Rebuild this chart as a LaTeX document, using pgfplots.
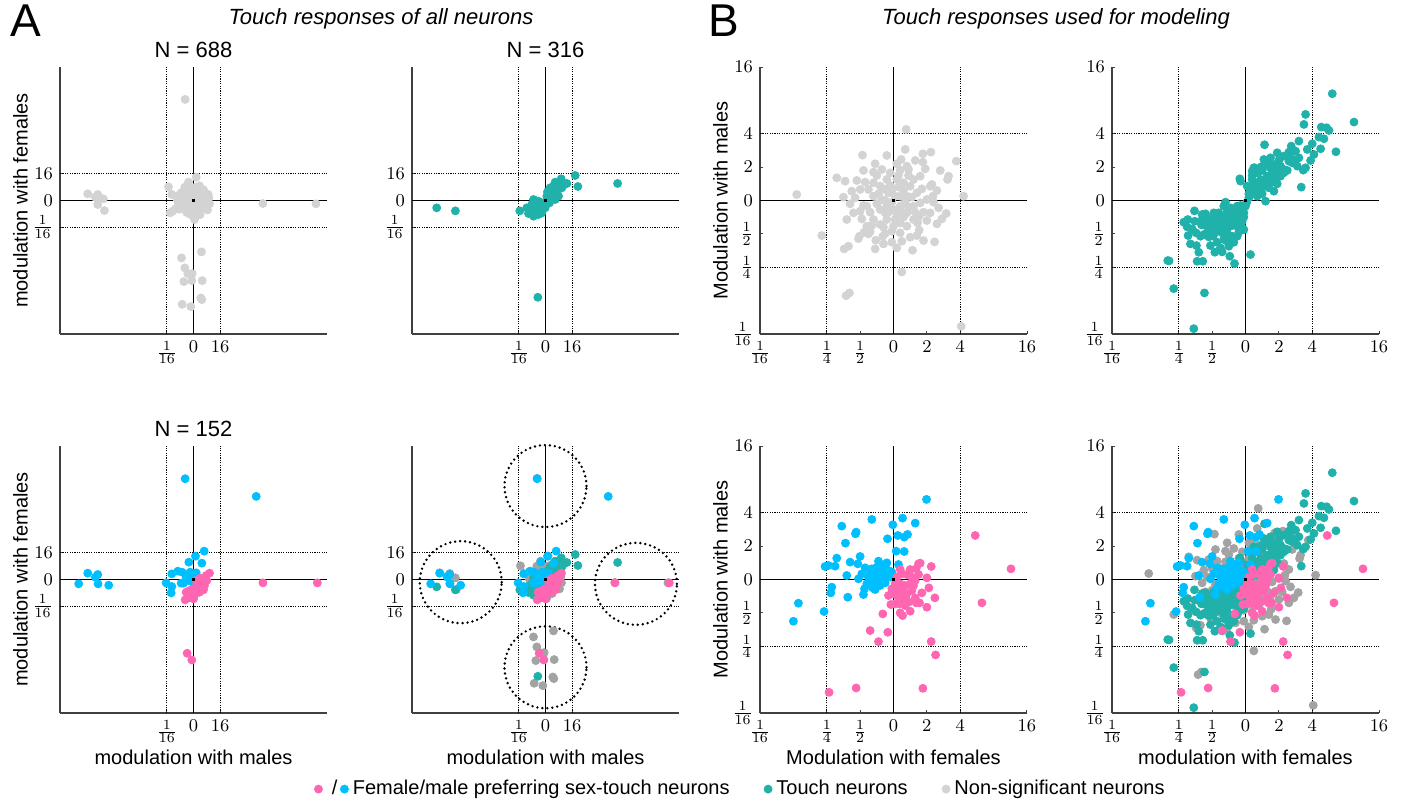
\documentclass[border=0pt]{standalone}
\usepackage{fontspec}
\setmainfont{Liberation Sans}
\usepackage{pgfplots}
\usepackage{pgfplotstable}
\pgfplotsset{compat=1.18}
\definecolor{pinkc}{HTML}{FF66B2}
\definecolor{bluec}{HTML}{00BFFF}
\definecolor{tealc}{HTML}{20B2AA}
\definecolor{lgray}{HTML}{D3D3D3}
\definecolor{dgray}{HTML}{A3A3A3}

% ---------------- data (log2 modulation) ----------------
\pgfplotstableread{
x y
-15.85 1.0
-14.35 0.9
-14.7 0.5
-14.2 0.3
-13.5 0.25
-14.35 -0.6
-13.35 -1.5
10.4 -0.45
18.35 -0.5
-1.25 15.15
1.2 -7.7
-1.8 -8.6
-1.3 -10.1
-0.85 -10.95
-0.2 -10.95
-1.45 -12.15
-0.25 -12.0
1.3 -12.0
1.1 -14.6
1.25 -14.85
-1.7 -15.55
-0.4 -15.9
-3.75 2.05
-3.25 0.9
-0.75 2.75
0.4 3.5
-3.5 -1.85
-3.1 -1.6
-2.7 -1.25
0.15 -2.85
-2.4 0.0
-2.2 0.8
-2.0 -0.6
-1.8 1.2
-1.6 -1.2
-1.5 0.4
-1.2 1.5
-1.0 -0.4
-1.0 -1.8
-0.8 0.8
-0.5 1.8
-0.5 -1.2
-0.3 0.2
-0.2 -2.2
0.0 1.2
0.2 -0.8
0.3 2.0
0.5 0.5
0.6 -1.6
0.8 1.5
1.0 -0.4
1.2 0.8
1.3 -1.2
1.5 1.6
1.6 0.2
1.8 -0.6
2.0 1.0
2.1 -1.4
2.3 0.4
-1.3 2.0
0.9 2.2
-0.6 -2.0
0.2 -1.9
-2.1 -1.3
-1.9 0.2
-0.9 0.0
0.7 -0.2
1.4 0.0
-0.2 -1.0
0.4 -2.3
1.0 -2.1
2.4 -0.5
-1.4 -0.5
-2.5 0.6
-2.3 -0.8
-1.7 -0.2
-1.4 1.0
-1.1 0.4
-0.7 -0.7
-0.4 0.8
-0.1 -0.5
0.1 0.4
0.4 1.3
0.5 -0.5
0.9 0.1
1.1 1.4
1.4 -0.7
1.7 0.9
2.0 -0.1
2.2 0.9
-0.9 1.3
0.3 -1.3
-1.3 -1.0
}\AgrayT

\pgfplotstableread{
x y
-16.3 -1.1
-13.5 -1.55
10.8 2.55
4.45 3.75
4.85 2.1
-1.15 -14.5
-3.85 -1.55
2.35 3.25
3.2 2.55
1.45 2.75
1.7 1.9
2.45 1.9
-2.8 -1.1
-2.55 -1.95
-1.8 -2.35
-1.8 0.15
-2.05 -0.6
-1.3 -0.6
-0.8 -1.1
-0.55 -1.85
-0.3 -0.35
0.2 0.15
0.45 0.9
0.7 1.4
0.95 0.65
1.2 1.15
1.7 1.15
1.95 0.65
1.45 0.15
0.6 -0.35
-1.3 -1.6
-2.05 -1.6
-1.05 -0.1
-2.3 -1.1
-1.55 -1.1
0.7 1.9
2.1 2.65
1.2 2.15
0.2 0.65
-0.8 -0.35
-0.05 -1.1
-1.05 -2.1
-1.55 -1.85
-0.5 -0.7
0.0 -0.3
0.4 0.3
0.9 0.9
1.3 1.6
1.9 2.2
-1.5 -0.4
-2.4 -1.7
-1.0 -1.5
0.3 1.3
2.6 2.2
}\AtealT

\pgfplotstableread{
x y
-1.25 15.1
9.4 12.45
1.6 4.25
0.3 3.5
-0.7 2.6
1.25 2.45
-3.25 0.85
-2.35 1.25
-1.7 1.1
-0.5 1.1
0.4 1.0
-1.1 0.35
-1.85 -0.55
-1.5 -0.55
-4.1 -0.5
-3.25 -1.05
-3.35 -2.0
-0.35 0.6
0.15 0.6
-0.8 -0.15
-0.1 -0.4
-17.2 -0.65
-15.85 0.95
-14.35 0.75
-14.7 0.35
-14.3 -0.65
-12.7 -0.85
}\AblueT

\pgfplotstableread{
x y
10.4 -0.5
18.55 -0.5
-0.95 -11.05
-0.25 -12.05
-1.25 -3.05
-0.85 -2.65
-0.35 -2.15
0.4 -1.9
0.9 -1.4
1.5 -1.55
1.65 -0.9
2.0 -0.15
2.4 0.95
1.9 0.6
1.15 -0.4
0.65 -0.9
-0.1 -1.4
-0.6 -1.65
-1.1 -1.9
0.15 -2.4
0.9 -1.9
1.4 -0.4
0.4 -0.15
1.0 0.2
-0.6 -2.7
0.0 -2.9
}\ApinkT

\pgfplotstableread{
x y
-2.9 0.18
-2.15 -1.05
-1.7 0.68
-1.45 0.58
-1.4 -0.57
-1.48 -1.45
-1.35 -1.37
-1.42 -2.85
-1.32 -2.77
-0.93 1.36
-0.2 1.35
0.23 1.23
0.35 1.53
0.38 2.13
0.45 0.93
0.88 1.15
0.88 1.4
1.12 1.45
1.88 1.18
1.65 0.73
1.62 0.63
2.1 0.13
2.03 -3.77
1.58 -0.39
1.35 -0.22
1.23 -1.24
0.57 -1.49
0.25 -1.22
0.1 -1.42
-0.05 -1.25
0.25 -2.14
-0.53 -1.19
-1.05 -1.14
-1.02 -1.07
-0.88 -0.95
-0.7 -0.94
-0.32 -1.07
-0.25 -0.99
0.77 -0.89
0.72 -0.67
1.1 -0.37
1.18 0.13
1.1 0.43
1.15 0.48
0.8 0.73
0.6 0.63
0.4 1.03
0.2 0.91
-0.35 0.93
-0.6 0.53
-0.75 0.33
-1.0 0.33
-1.15 0.08
-1.25 0.28
-1.2 -0.37
-1.0 -0.32
-0.8 -0.17
-0.6 -0.57
-0.8 -0.77
-0.4 -0.72
-0.25 -0.37
0.05 -0.57
0.4 -0.37
0.6 -0.17
0.8 -0.07
1.0 0.03
0.7 0.23
0.5 0.43
0.3 0.53
0.1 0.63
-0.1 0.83
-0.2 0.63
-0.4 0.43
-0.6 0.13
-0.35 0.03
-0.15 0.23
0.05 0.13
0.2 0.13
0.4 0.13
0.2 -0.17
0.0 -0.27
-0.2 -0.17
-0.4 -0.27
-0.2 -0.57
0.0 -0.77
0.2 -0.67
0.4 -0.77
0.6 -0.57
0.2 -0.97
-0.05 -0.92
-0.5 0.75
-0.85 0.55
0.95 0.95
1.3 0.3
1.45 -0.55
-1.3 -0.1
-0.95 -0.55
0.9 -1.2
0.7 -1.05
-0.55 -1.45
-0.75 -1.0
1.0 -0.6
-0.3 0.35
0.15 0.4
0.35 -0.05
-0.05 -0.05
-0.5 -0.1
0.55 0.1
-0.1 0.45
0.3 -0.5
-0.3 -0.8
0.45 0.75
-0.7 -0.35
0.85 0.35
-0.45 0.2
0.1 -0.4
0.65 -0.35
-0.15 -0.35
0.15 0.75
-0.6 0.85
0.3 0.3
-0.9 -0.15
0.9 -0.35
-0.3 -1.3
0.5 -1.1
1.3 -0.7
-1.5 0.1
-1.1 0.6
0.65 1.2
-0.55 1.1
1.4 0.9
-0.9 0.9
0.1 1.1
1.2 -0.05
-0.05 0.3
0.25 -0.35
-0.25 0.0
0.45 -0.2
0.75 -0.5
-0.65 -0.75
}\BgrayT

\pgfplotstableread{
x y
2.6 3.2
1.8 2.58
1.75 2.28
2.27 2.2
2.43 2.18
3.25 2.35
2.71 1.46
2.05 1.38
1.85 1.53
1.6 1.78
1.37 1.63
1.5 1.48
1.35 1.31
1.4 1.13
1.73 0.91
1.67 0.4
0.57 1.67
0.95 1.43
0.75 1.28
0.55 1.23
0.25 0.98
0.2 0.63
0.35 0.83
0.55 1.03
0.75 0.98
0.9 1.08
1.05 1.03
1.15 0.93
1.05 0.73
0.85 0.28
0.6 -0.02
0.35 0.13
0.15 0.33
0.05 0.43
0.25 0.53
0.45 0.63
0.65 0.73
0.8 0.83
0.95 0.88
0.55 0.43
0.4 0.33
0.25 0.23
0.75 0.53
-0.15 0.58
-0.17 0.65
0.1 0.08
0.03 -0.07
1.15 1.33
1.3 1.18
1.55 1.03
1.8 0.98
1.6 1.28
1.0 0.73
0.6 0.63
0.7 0.38
1.15 0.83
0.27 0.98
0.47 1.01
0.2 0.88
0.1 0.2
0.3 0.4
0.5 0.2
0.2 0.75
0.4 0.55
0.65 0.5
0.85 0.65
0.5 0.9
0.7 1.15
1.0 1.2
1.25 0.9
0.95 0.5
1.3 1.45
1.5 1.2
2.2 1.9
2.0 1.7
2.35 1.85
2.5 2.1
2.25 1.55
1.95 1.2
0.15 -1.62
0.0 -0.17
-0.1 -0.27
-0.2 -0.37
-0.3 -0.47
-0.4 -0.57
-0.5 -0.67
-0.6 -0.47
-0.65 -0.62
-0.75 -0.72
-0.85 -0.62
-0.95 -0.77
-1.05 -0.87
-1.15 -0.97
-1.0 -0.57
-0.8 -0.87
-0.7 -0.97
-0.45 -0.77
-0.25 -0.62
-0.1 -0.62
-0.05 -0.87
-0.25 -1.07
-0.4 -1.07
-0.55 -1.22
-0.5 -1.37
-0.75 -1.42
-0.7 -1.54
-0.92 -1.55
-0.47 -1.67
-0.33 -1.89
-1.23 -2.77
-1.55 -3.84
-2.15 -2.64
-2.33 -1.8
-2.29 -1.81
-1.45 -1.82
-1.28 -1.82
-1.47 -1.35
-1.85 -0.65
-1.73 -0.57
-1.75 -0.79
-1.72 -1.05
-1.53 -0.31
-1.52 -0.62
-1.3 -0.42
-1.32 -0.73
-1.2 -0.4
-1.48 -0.97
-1.35 -1.07
-1.25 -1.02
-1.1 -1.09
-0.97 -1.07
-1.15 -0.67
-0.95 -0.37
-0.8 -0.37
-0.65 -0.17
-0.45 -0.22
-0.35 -0.27
-1.3 -0.57
-0.15 -0.57
-0.05 -0.37
-0.25 -0.17
-0.17 -0.82
-0.55 -0.97
-0.65 -1.17
-0.1 -0.82
-0.15 -0.15
-0.35 -0.35
-0.55 -0.35
-0.75 -0.55
-0.9 -0.45
-1.1 -0.55
-1.2 -0.75
-0.9 -0.95
-0.6 -0.8
-0.3 -0.75
-0.2 -0.95
-0.35 -1.25
-0.85 -1.25
-1.05 -1.35
-1.6 -0.85
-1.65 -1.3
-1.4 -1.55
-0.6 -0.05
-0.45 -0.45
-0.05 -0.5
}\BtealT

\pgfplotstableread{
x y
0.99 2.4
-0.65 1.8
0.27 1.84
0.65 1.69
-0.02 1.64
-1.55 1.6
-1.14 1.37
-1.12 1.42
-1.44 1.09
-0.18 1.22
0.13 1.32
0.32 1.27
0.42 1.35
0.08 0.85
0.32 0.84
-1.7 0.64
-1.75 0.4
-2.05 0.39
-1.95 0.42
-1.3 0.52
-1.0 0.69
-1.07 0.47
-1.4 0.12
-0.95 0.17
-1.05 0.02
-0.87 -0.28
-0.62 -0.25
-1.37 -0.53
-1.85 -0.23
-1.88 -0.4
-2.08 -0.96
-2.85 -0.71
-3.0 -1.25
0.15 0.45
-0.65 0.32
-0.5 0.37
-0.35 0.42
-0.25 0.32
-0.15 0.27
-0.05 0.22
-0.6 0.17
-0.4 0.17
-0.2 0.12
-0.3 -0.03
-0.45 -0.13
-0.6 -0.03
-0.75 0.07
-0.1 0.07
-0.4 -0.18
-0.8 -0.13
-0.7 0.17
-0.35 0.3
-0.53 0.02
-0.45 0.55
-0.2 0.5
-0.85 0.35
-0.55 -0.3
-0.25 -0.1
-0.9 -0.45
}\BblueT

\pgfplotstableread{
x y
3.52 0.32
2.45 1.32
2.65 -0.7
1.13 0.39
0.75 0.47
0.8 0.49
0.68 0.32
1.0 0.05
1.06 -0.25
1.24 -0.55
1.0 -0.83
0.68 -0.7
0.78 -0.7
0.4 -0.63
0.27 -1.08
-0.32 -1.03
-0.7 -1.53
-0.17 -1.58
-0.45 -1.86
1.13 -1.86
1.26 -2.26
0.88 -3.26
-1.12 -3.25
-1.93 -3.38
-0.08 -0.75
-0.15 -0.48
0.1 0.07
0.25 0.17
0.4 0.15
0.55 0.07
0.65 -0.03
0.5 -0.13
0.35 -0.18
0.2 -0.13
0.1 -0.33
0.25 -0.38
0.4 -0.43
0.55 -0.33
0.15 -0.53
0.3 -0.63
0.45 -0.68
0.18 -0.73
0.35 -0.78
0.6 -0.18
0.05 -0.13
-0.05 -0.28
0.05 -0.73
0.2 0.3
0.5 0.3
0.75 0.15
0.85 -0.4
0.65 -0.55
0.2 -1.0
0.5 -0.95
0.05 -0.45
0.3 -0.25
}\BpinkT

% ---------------- styles ----------------
\newcommand{\pts}[2]{\addplot[only marks, mark=*, mark size=2.0pt, color=#1, forget plot] table {#2};}
\newcommand{\reflines}[2]{%
  \draw[black, dash pattern=on 0.6pt off 0.6pt, line width=0.5pt]
    (axis cs:-#1,-#2) -- (axis cs:-#1,#2) (axis cs:#1,-#2) -- (axis cs:#1,#2)
    (axis cs:-#2,-#1) -- (axis cs:#2,-#1) (axis cs:-#2,#1) -- (axis cs:#2,#1);
  \draw[black, line width=0.6pt] (axis cs:0,-#2) -- (axis cs:0,#2) (axis cs:-#2,0) -- (axis cs:#2,0);
  \addplot[only marks, mark=square*, mark size=0.65pt, black, forget plot] coordinates {(0,0)};
}
\pgfplotsset{
  base/.style={scale only axis, width=133.5pt, height=133.5pt, anchor=south west, clip=false,
    axis x line=bottom, axis y line=left,
    axis line style={-, black!75, line width=0.6pt},
    tick align=inside, major tick length=1.5pt, tick style={black!75, line width=0.5pt},
    tick label style={font=\fontsize{9.5}{10}\selectfont},
    label style={font=\fontsize{10}{12}\selectfont},
    xlabel style={at={(axis description cs:0.5,-0.165)}, anchor=center},
    ylabel style={at={(axis description cs:-0.148,0.5)}, anchor=center},
    every axis title shift=0pt,
    title style={font=\fontsize{11}{13}\selectfont, at={(axis description cs:0.5,1.064)}, anchor=center},
  },
  panelA/.style={base, xmin=-20, xmax=20, ymin=-20, ymax=20,
    xtick={-4,0,4}, xticklabels={$\frac{1}{16}$,$0$,$16$},
    ytick={-4,0,4}, yticklabels={$\frac{1}{16}$,$0$,$16$}},
  panelB/.style={base, xmin=-4, xmax=4, ymin=-4, ymax=4,
    xtick={-4,-2,-1,0,1,2,4}, xticklabels={$\frac{1}{16}$,$\frac{1}{4}$,$\frac{1}{2}$,$0$,$2$,$4$,$16$},
    ytick={-4,-2,-1,0,1,2,4}, yticklabels={$\frac{1}{16}$,$\frac{1}{4}$,$\frac{1}{2}$,$0$,$2$,$4$,$16$}},
}

\begin{document}
\begin{tikzpicture}
\path[use as bounding box] (0,0) rectangle (702pt,-401.5pt);

\node[font=\fontsize{23}{25}\selectfont] at (13pt,-10.5pt) {A};
\node[font=\fontsize{23}{25}\selectfont] at (362pt,-10.5pt) {B};
\node[font=\itshape\fontsize{11}{13}\selectfont] at (190.5pt,-9.5pt) {Touch responses of all neurons};
\node[font=\itshape\fontsize{11}{13}\selectfont] at (528pt,-9.5pt) {Touch responses used for modeling};

% A1
\begin{axis}[panelA, at={(30pt,-167pt)}, title={N = 688}, ylabel={modulation with females}]
\pts{lgray}{\AgrayT}
\reflines{4}{20}
\end{axis}
% A2
\begin{axis}[panelA, at={(206pt,-167pt)}, title={N = 316}]
\pts{tealc}{\AtealT}
\reflines{4}{20}
\end{axis}
% B1
\begin{axis}[panelB, at={(380pt,-167pt)}, ylabel={Modulation with males}]
\pts{lgray}{\BgrayT}
\reflines{2}{4}
\end{axis}
% B2
\begin{axis}[panelB, at={(556pt,-167pt)}]
\pts{tealc}{\BtealT}
\reflines{2}{4}
\end{axis}
% A3
\begin{axis}[panelA, at={(30pt,-356.5pt)}, title={N = 152}, ylabel={modulation with females}, xlabel={modulation with males}]
\pts{bluec}{\AblueT}
\pts{pinkc}{\ApinkT}
\reflines{4}{20}
\end{axis}
% A4
\begin{axis}[panelA, at={(206pt,-356.5pt)}, xlabel={modulation with males}]
\pts{dgray}{\AgrayT}
\pts{tealc}{\AtealT}
\pts{bluec}{\AblueT}
\pts{pinkc}{\ApinkT}
\reflines{4}{20}
\draw[black, line width=1.35pt, line cap=round, dash pattern=on 0pt off 2.5pt] (axis cs:0,14) circle[radius=20.5pt];
\draw[black, line width=1.35pt, line cap=round, dash pattern=on 0pt off 2.5pt] (axis cs:-12.7,-0.4) circle[radius=20.5pt];
\draw[black, line width=1.35pt, line cap=round, dash pattern=on 0pt off 2.5pt] (axis cs:13.55,-0.65) circle[radius=20.5pt];
\draw[black, line width=1.35pt, line cap=round, dash pattern=on 0pt off 2.5pt] (axis cs:0,-13.15) circle[radius=20.5pt];
\end{axis}
% B3
\begin{axis}[panelB, at={(380pt,-356.5pt)}, ylabel={Modulation with males}, xlabel={Modulation with females},
  legend style={at={(axis description cs:-0.07,-0.285)}, anchor=center, draw=none, fill=none,
    font=\fontsize{10}{12}\selectfont, legend columns=3,
    /tikz/every even column/.append style={column sep=15pt}},
  legend cell align=left]
\pts{bluec}{\BblueT}
\pts{pinkc}{\BpinkT}
\reflines{2}{4}
\addlegendimage{legend image code/.code={
  \fill[pinkc] (0pt,0pt) circle (2pt);
  \node[inner sep=0pt, font=\fontsize{10}{10}\selectfont] at (6.5pt,0pt) {/};
  \fill[bluec] (13pt,0pt) circle (2pt);}}
\addlegendentry{Female/male preferring sex-touch neurons}
\addlegendimage{legend image code/.code={\fill[tealc] (0pt,0pt) circle (2pt);}}
\addlegendentry{Touch neurons}
\addlegendimage{legend image code/.code={\fill[lgray] (0pt,0pt) circle (2pt);}}
\addlegendentry{Non-significant neurons}
\end{axis}
% B4
\begin{axis}[panelB, at={(556pt,-356.5pt)}, xlabel={modulation with females}]
\pts{dgray}{\BgrayT}
\pts{tealc}{\BtealT}
\pts{bluec}{\BblueT}
\pts{pinkc}{\BpinkT}
\reflines{2}{4}
\end{axis}
\end{tikzpicture}
\end{document}
